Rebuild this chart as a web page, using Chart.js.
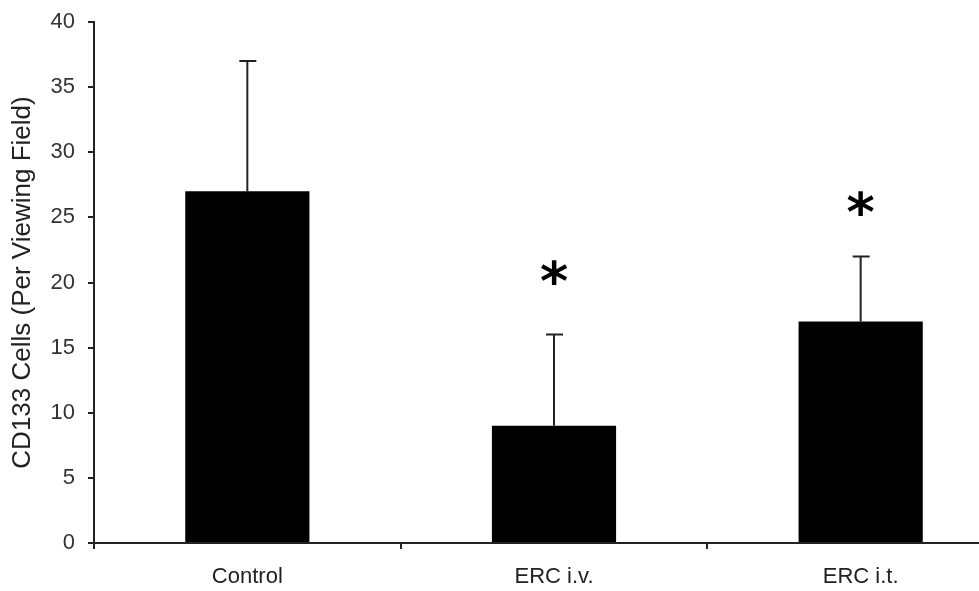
<!DOCTYPE html>
<html>
<head>
<meta charset="utf-8">
<script src="https://cdn.jsdelivr.net/npm/chart.js@4"></script>
<style>
    html, body { margin: 0; padding: 0; background: #fff; overflow: hidden; }
    #wrap { width: 1014px; height: 591px; }
</style>
</head>
<body>
<div id="wrap"><canvas id="cd133Chart"></canvas></div>
<script>
const categories = ['Control', 'ERC i.v.', 'ERC i.t.'];
const cellMeans = [27, 9, 17];
const cellErrors = [10, 7, 5];          // upper error (SD)
const starLevels = [null, 20.8, 26.1];  // where the "*" sits, in axis units
const yTicks = [0, 5, 10, 15, 20, 25, 30, 35, 40];

// draws the upward error bars and the significance stars
const errorBarPlugin = {
    id: 'errorBars',
    afterDatasetsDraw(chart) {
        let ctx = chart.ctx
        let x = chart.scales.x
        let y = chart.scales.y
        ctx.save()
        ctx.strokeStyle = '#222'
        ctx.lineWidth = 2
        for (let i = 0; i < categories.length; i++) {
            let cx = x.getPixelForValue(i)
            let top = y.getPixelForValue(cellMeans[i] + cellErrors[i])
            let base = y.getPixelForValue(cellMeans[i])
            ctx.beginPath()
            ctx.moveTo(cx, base)
            ctx.lineTo(cx, top)
            ctx.moveTo(cx - 8, top)
            ctx.lineTo(cx + 9, top)
            ctx.stroke()

            if (starLevels[i] !== null) {
                ctx.fillStyle = '#000'
                ctx.font = 'bold 54px "DejaVu Sans", sans-serif'
                ctx.textAlign = 'center'
                ctx.textBaseline = 'alphabetic'
                let m = ctx.measureText('*')
                let mid = (m.actualBoundingBoxAscent - m.actualBoundingBoxDescent) / 2
                ctx.fillText('*', cx, y.getPixelForValue(starLevels[i]) + mid)
            }
        }
        ctx.restore()
    }
}

function chartInit() {
    let element = document.getElementById('cd133Chart')
    new Chart(element.getContext('2d'), {
        type: 'bar',
        data: {
            labels: categories,
            datasets: [{
                label: 'CD133 cells',
                data: cellMeans,
                backgroundColor: '#000',
                borderWidth: 0,
                categoryPercentage: 1,
                barPercentage: 0.405
            }]
        },
        options: {
            responsive: true,
            maintainAspectRatio: false,
            animation: false,
            layout: { padding: { top: 22, right: 0, bottom: 0, left: 0 } },
            plugins: {
                legend: { display: false },
                tooltip: { enabled: false }
            },
            scales: {
                x: {
                    grid: {
                        display: true,
                        drawOnChartArea: false,
                        drawTicks: true,
                        tickLength: 6,
                        color: '#222',
                        lineWidth: 2
                    },
                    border: { display: true, color: '#222', width: 2 },
                    ticks: {
                        color: '#222',
                        padding: 15,
                        font: { family: '"Liberation Sans", Arial, sans-serif', size: 22 }
                    },
                    afterFit(scale) {
                        scale.height = 48
                        scale.paddingLeft = 0
                        scale.paddingRight = 0
                    }
                },
                y: {
                    min: 0,
                    max: 40,
                    afterBuildTicks(scale) {
                        scale.ticks = yTicks.map(v => ({ value: v }))
                    },
                    grid: {
                        display: true,
                        drawOnChartArea: false,
                        drawTicks: true,
                        tickLength: 6,
                        color: '#222',
                        lineWidth: 2
                    },
                    border: { display: true, color: '#222', width: 2 },
                    ticks: {
                        color: '#333',
                        padding: 13,
                        font: { family: '"Liberation Sans", Arial, sans-serif', size: 22 }
                    },
                    title: {
                        display: true,
                        text: 'CD133 Cells (Per Viewing Field)',
                        color: '#222',
                        padding: { top: 7, bottom: 0 },
                        font: { family: '"Liberation Sans", Arial, sans-serif', size: 26 }
                    },
                    afterFit(scale) {
                        scale.width = 94
                        scale.paddingTop = 0
                        scale.paddingBottom = 0
                    }
                }
            }
        },
        plugins: [errorBarPlugin]
    })
}

chartInit()
</script>
</body>
</html>
